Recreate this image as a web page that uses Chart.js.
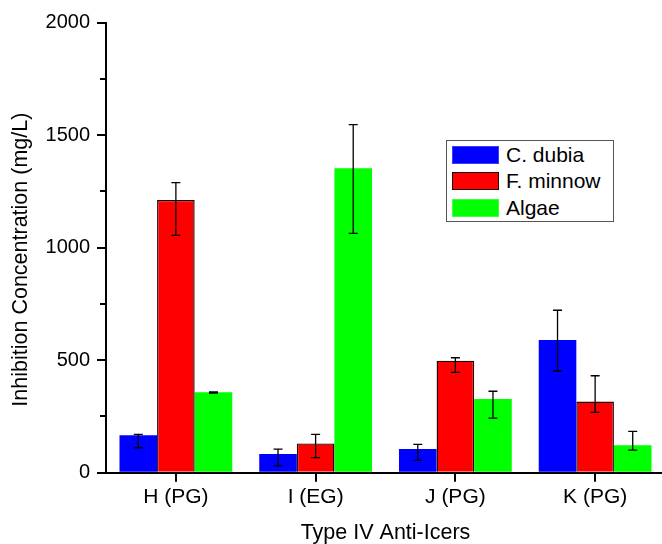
<!DOCTYPE html>
<html>
<head>
<meta charset="utf-8">
<script src="https://cdn.jsdelivr.net/npm/chart.js@4"></script>
<style>
  html, body { margin: 0; padding: 0; background: #fff; overflow: hidden; }
  #wrap { position: relative; width: 665px; height: 544px; }
  #legend {
    position: absolute; left: 446px; top: 140px; width: 166px; height: 80px;
    border: 1px solid #555; background: #fff;
    font-family: "Liberation Sans", Arial, sans-serif; font-size: 21px; color: #000;
  }
  .row { position: absolute; left: 5px; height: 18px; display: flex; align-items: center; white-space: nowrap; }
  .sw { width: 47px; height: 18px; box-sizing: border-box; margin-right: 7px; }
</style>
</head>
<body>
<div id="wrap">
  <canvas id="chart" width="665" height="544"></canvas>
  <div id="legend"></div>
</div>
<script>
const FONT = '"Liberation Sans", Arial, sans-serif';

// dữ liệu
const categories = ['H (PG)', 'I (EG)', 'J (PG)', 'K (PG)'];
const seriesNames = ['C. dubia', 'F. minnow', 'Algae'];

const dubia = [167, 83, 105, 590];
const dubiaHigh = [170, 105, 126, 722];
const dubiaLow = [111, 30, 55, 452];

const minnow = [1212, 130, 498, 316];
const minnowHigh = [1289, 170, 511, 431];
const minnowLow = [1055, 67, 446, 268];

const algae = [358, 1353, 328, 122];
const algaeHigh = [359, 1547, 362, 184];
const algaeLow = [354, 1064, 243, 100];

const yTicks = [0, 500, 1000, 1500, 2000];
const yMinorTicks = [250, 750, 1250, 1750];

// vẽ thanh sai số
const errorBars = {
  id: 'errorBars',
  afterDatasetsDraw(chart) {
    const ctx = chart.ctx;
    const y = chart.scales.y;
    ctx.save();
    ctx.strokeStyle = '#000';
    ctx.lineWidth = 1.3;
    chart.data.datasets.forEach((ds, i) => {
      const meta = chart.getDatasetMeta(i);
      meta.data.forEach((bar, j) => {
        const x = bar.x;
        const yHi = y.getPixelForValue(ds.errHigh[j]);
        const yLo = y.getPixelForValue(ds.errLow[j]);
        ctx.beginPath();
        ctx.moveTo(x, yHi); ctx.lineTo(x, yLo);
        ctx.moveTo(x - 4.5, yHi); ctx.lineTo(x + 4.5, yHi);
        ctx.moveTo(x - 4.5, yLo); ctx.lineTo(x + 4.5, yLo);
        ctx.stroke();
      });
    });
    ctx.restore();
  }
};

// vạch chia phụ trục Y
const minorTicks = {
  id: 'minorTicks',
  afterDraw(chart) {
    const ctx = chart.ctx;
    const y = chart.scales.y;
    ctx.save();
    ctx.strokeStyle = '#000';
    ctx.lineWidth = 2;
    yMinorTicks.forEach(v => {
      const py = Math.round(y.getPixelForValue(v));
      ctx.beginPath();
      ctx.moveTo(y.right - 6, py);
      ctx.lineTo(y.right, py);
      ctx.stroke();
    });
    ctx.restore();
  }
};

const chart = new Chart(document.getElementById('chart'), {
  type: 'bar',
  data: {
    labels: categories,
    datasets: [
      { label: seriesNames[0], data: dubia, errHigh: dubiaHigh, errLow: dubiaLow,
        backgroundColor: '#0000ff', borderColor: '#3b3bff', borderWidth: 0 },
      { label: seriesNames[1], data: minnow, errHigh: minnowHigh, errLow: minnowLow,
        backgroundColor: '#ff0000', borderColor: '#200000', borderWidth: 1.4 },
      { label: seriesNames[2], data: algae, errHigh: algaeHigh, errLow: algaeLow,
        backgroundColor: '#00ff00', borderColor: '#40ff40', borderWidth: 0 }
    ]
  },
  options: {
    responsive: false,
    animation: false,
    devicePixelRatio: 1,
    layout: { padding: { top: 22.7, left: 0, right: 0, bottom: 0 } },
    datasets: { bar: { categoryPercentage: 0.807, barPercentage: 1.0 } },
    plugins: { legend: { display: false }, tooltip: { enabled: false } },
    scales: {
      x: {
        offset: true,
        grid: { offset: false, drawOnChartArea: false, drawTicks: true, tickLength: 9, color: '#000', lineWidth: 2 },
        border: { color: '#000', width: 2 },
        ticks: { color: '#000', font: { family: FONT, size: 21 }, padding: 3, maxRotation: 0 },
        title: { display: true, text: 'Type IV Anti-Icers', color: '#000',
                 font: { family: FONT, size: 21.5, lineHeight: 1 }, padding: 0 },
        afterFit: s => { s.height = 544 - 472.7; }
      },
      y: {
        min: 0, max: 2000,
        afterBuildTicks: s => { s.ticks = yTicks.map(v => ({ value: v })); },
        grid: { drawOnChartArea: false, drawTicks: true, tickLength: 9, color: '#000', lineWidth: 2 },
        border: { color: '#000', width: 2 },
        ticks: { color: '#000', font: { family: FONT, size: 20 }, padding: 7, callback: v => String(v) },
        title: { display: true, text: 'Inhibition Concentration (mg/L)    ', color: '#000',
                 font: { family: FONT, size: 21.5, lineHeight: 1 }, padding: { top: 10, bottom: 0 } },
        afterFit: s => { s.width = 106; }
      }
    }
  },
  plugins: [errorBars, minorTicks]
});

// chú thích dạng HTML đặt trong vùng biểu đồ
const legendEl = document.getElementById('legend');
const rowTops = [4.5, 31, 57.5];
chart.data.datasets.forEach((ds, i) => {
  const row = document.createElement('div');
  row.className = 'row';
  row.style.top = rowTops[i] + 'px';
  const sw = document.createElement('div');
  sw.className = 'sw';
  sw.style.background = ds.backgroundColor;
  sw.style.border = i === 1 ? '1.5px solid #200000' : '1px solid ' + ds.borderColor;
  const txt = document.createElement('span');
  txt.textContent = ds.label;
  row.appendChild(sw);
  row.appendChild(txt);
  legendEl.appendChild(row);
});
</script>
</body>
</html>
